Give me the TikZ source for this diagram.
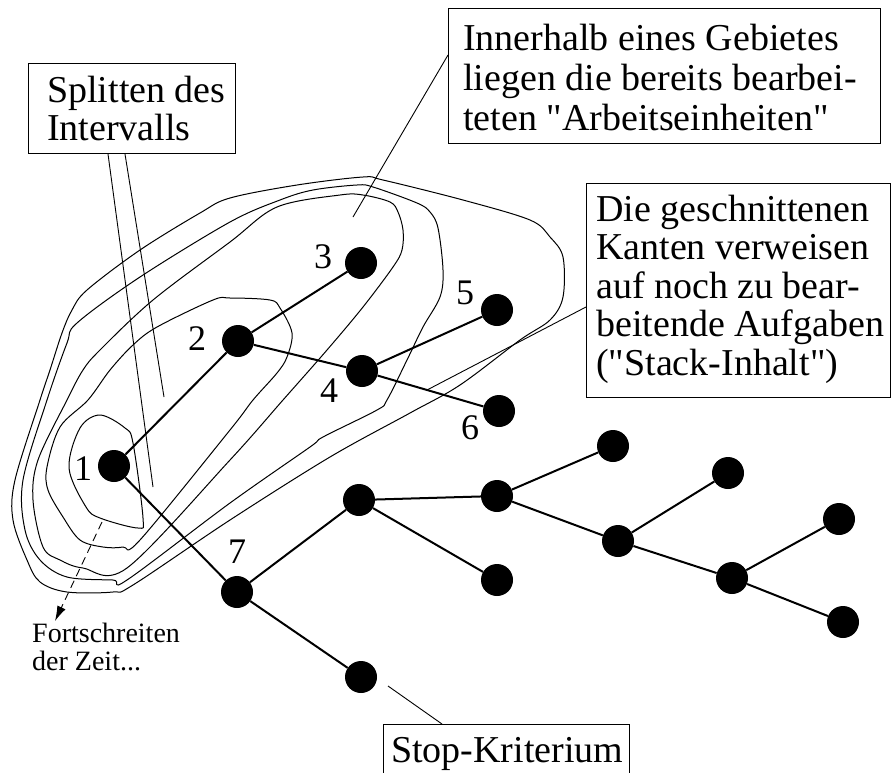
\documentclass[tikz,border=0pt]{standalone}
\usepackage{fontspec}
\setmainfont{Liberation Serif}[Ligatures=TeXOff]
\usetikzlibrary{arrows.meta,calc}

\tikzset{
  vertex/.style={circle, fill=black, draw=none, minimum size=32pt, inner sep=0pt},
  edge/.style={line width=2pt},
  contour/.style={line width=1pt, line join=round},
  leader/.style={line width=0.9pt},
  box/.style={draw=black, line width=1pt, inner sep=0pt, anchor=north west},
  boxtext/.style={anchor=base west, inner sep=0pt, font=\fontsize{38}{38}\selectfont},
  numlabel/.style={inner sep=0pt, font=\fontsize{36}{36}\selectfont},
  smalltext/.style={anchor=base west, inner sep=0pt, font=\fontsize{28}{28}\selectfont},
}

\begin{document}
\begin{tikzpicture}[x=1pt, y=-1pt]
\path[use as bounding box, clip] (0,0) rectangle (894,772);

% nested regions of already processed work units
\draw[contour] plot[smooth cycle, tension=0.55] coordinates {
  (100,415) (125,428) (133,443) (143,518) (138,528) (100,518) (86,507) (69,468) (80,428)};
\draw[contour] plot[smooth cycle, tension=0.55] coordinates {
  (230,298) (270,300) (280,308) (292,333) (287,357) (277,373) (253,400) (230,430)
  (140,540) (123,547) (103,547) (80,540) (63,517) (48,490) (47,467) (60,427)
  (88,400) (110,370) (133,345) (157,327) (213,300)};
\draw[contour] plot[smooth cycle, tension=0.55] coordinates {
  (340,195) (363,195) (390,202) (398,212) (403,230) (402,250) (393,267) (363,307)
  (327,350) (283,400) (230,460) (127,568) (83,568) (60,560) (43,547) (33,500)
  (38,460) (67,400) (83,370) (100,350) (153,300) (230,242) (277,207)};
\draw[contour] plot[smooth cycle, tension=0.55] coordinates {
  (357,185) (373,187) (417,203) (430,212) (438,228) (443,270) (440,297) (423,327)
  (407,360) (387,400) (377,410) (323,437) (310,447) (230,503) (127,580) (113,580)
  (67,577) (40,560) (25,530) (23,480) (47,400) (67,343) (77,323) (140,277)
  (230,222) (280,200) (313,190)};
\draw[contour] plot[smooth cycle, tension=0.55] coordinates {
  (363,177) (383,180) (463,200) (530,220) (550,237) (563,257) (563,297) (550,320)
  (520,340) (460,385) (410,413) (330,457) (230,520) (133,585) (113,592) (67,592)
  (40,582) (27,560) (13,520) (15,480) (40,400) (50,370) (62,333) (72,310)
  (87,290) (140,250) (200,213) (230,198) (297,185)};

% tree vertices
\node[vertex] (n1) at (114,466) {};
\node[vertex] (n2) at (238,341) {};
\node[vertex] (n3) at (361,263) {};
\node[vertex] (n4) at (362,371) {};
\node[vertex] (n5) at (497,310) {};
\node[vertex] (n6) at (499,411) {};
\node[vertex] (n7) at (237,592) {};
\node[vertex] (n8) at (359,500) {};
\node[vertex] (n9) at (497,496) {};
\node[vertex] (n10) at (613,446) {};
\node[vertex] (n11) at (497,580) {};
\node[vertex] (n12) at (618,541) {};
\node[vertex] (n13) at (728,473) {};
\node[vertex] (n14) at (732,578) {};
\node[vertex] (n15) at (839,519) {};
\node[vertex] (n16) at (843,622) {};
\node[vertex] (n17) at (361,677) {};

% tree edges
\draw[edge] (n1) -- (n2);
\draw[edge] (n2) -- (n3);
\draw[edge] (n2) -- (n4);
\draw[edge] (n4) -- (n5);
\draw[edge] (n4) -- (n6);
\draw[edge] (n1) -- (n7);
\draw[edge] (n7) -- (n8);
\draw[edge] (n7) -- (n17);
\draw[edge] (n8) -- (n9);
\draw[edge] (n8) -- (n11);
\draw[edge] (n9) -- (n10);
\draw[edge] (n9) -- (n12);
\draw[edge] (n12) -- (n13);
\draw[edge] (n12) -- (n14);
\draw[edge] (n14) -- (n15);
\draw[edge] (n14) -- (n16);

% vertex numbers
\node[numlabel] (l1) at (83,469) {1};
\node[numlabel] (l2) at (197,339) {2};
\node[numlabel] (l3) at (323,257) {3};
\node[numlabel] (l4) at (329,391) {4};
\node[numlabel] (l5) at (465,293) {5};
\node[numlabel] (l6) at (470,428) {6};
\node[numlabel] (l7) at (237,552) {7};

% annotation boxes
\node[box, minimum width=207pt, minimum height=90pt] (splitbox) at (28,63) {};
\node[boxtext] (splittext) at (47,102)
  {\begin{tabular}[t]{@{}l@{}}Splitten des\\Intervalls\end{tabular}};

\node[box, minimum width=432pt, minimum height=135pt] (innerbox) at (448,8) {};
\node[boxtext, font=\fontsize{38}{40}\selectfont] (innertext) at (463,50)
  {\begin{tabular}[t]{@{}l@{}}Innerhalb eines Gebietes\\liegen die bereits bearbei-\\teten "Arbeitseinheiten"\end{tabular}};

\node[box, minimum width=304pt, minimum height=214pt] (diebox) at (586,183) {};
\node[boxtext, font=\fontsize{38}{38.5}\selectfont] (dietext) at (596,221)
  {\begin{tabular}[t]{@{}l@{}}Die geschnittenen\\Kanten verweisen\\auf noch zu bear-\\beitende Aufgaben\\("Stack-Inhalt")\end{tabular}};

\node[box, minimum width=246pt, minimum height=80pt] (stopbox) at (383,724) {};
\node[boxtext] (stoptext) at (391,762) {Stop-Kriterium};

% leader lines
\coordinate (splitA) at (153,487);
\coordinate (splitB) at (164,397);
\coordinate (innerend) at (353,217);
\coordinate (dieend) at (427,390);
\coordinate (stopend) at (388,686);
\draw[leader] ($(splitbox.south west)+(80,0)$) -- (splitA);
\draw[leader] ($(splitbox.south west)+(97,0)$) -- (splitB);
\draw[leader] ($(innerbox.north west)+(0,47)$) -- (innerend);
\draw[leader] ($(diebox.north west)+(0,124)$) -- (dieend);
\draw[leader] ($(stopbox.north west)+(59,0)$) -- (stopend);

% time arrow
\coordinate (timestart) at (102,522);
\coordinate (timeend) at (55,621);
\draw[line width=0.9pt, dash pattern=on 8pt off 5pt, -{Latex[length=15pt,width=9pt]}] (timestart) -- (timeend);
\node[smalltext] (timetext) at (32,642)
  {\begin{tabular}[t]{@{}l@{}}Fortschreiten\\der Zeit...\end{tabular}};
\end{tikzpicture}
\end{document}
